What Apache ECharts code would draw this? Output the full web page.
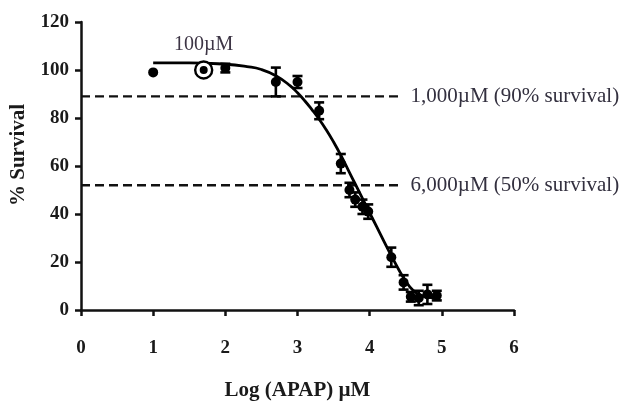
<!DOCTYPE html>
<html>
<head>
<meta charset="utf-8">
<script src="https://cdn.jsdelivr.net/npm/echarts@6/dist/echarts.min.js"></script>
<style>html,body{margin:0;padding:0;background:#fff;}#c{width:621px;height:406px;}</style>
</head>
<body>
<div id="c"></div>
<script>
// Observed points: log concentration, % survival, error (SEM)
const logConc  = [1.0, 2.0, 2.7, 3.0, 3.3, 3.6, 3.72, 3.8, 3.9, 3.98, 4.3, 4.47, 4.57, 4.68, 4.8, 4.93];
const survival = [99, 100.8, 95, 95, 83, 61, 50, 46, 43, 41, 22, 11.5, 5.5, 5, 6.5, 6];
const errors   = [0, 1.8, 6, 2.5, 3.5, 4, 3, 3, 3, 3, 4, 3, 2, 3, 4, 2];

// Highlighted (circled) point
const highlightX = 1.70;
const highlightY = 100;
const highlightLabel = '100\u00B5M';

// Fitted dose-response curve
const fitX = [1.0, 1.5, 2.0, 2.3, 2.5, 2.7, 2.9, 3.0, 3.1, 3.2, 3.3, 3.4, 3.5, 3.6, 3.7, 3.8, 3.9, 4.0, 4.1, 4.2, 4.3, 4.4, 4.5, 4.6, 4.7, 4.8, 4.9];
const fitY = [103, 103, 102.4, 101.4, 100.2, 97.6, 93.4, 90.5, 87.2, 83.5, 79.5, 75, 70, 64.5, 58.5, 52.5, 46.5, 40.5, 34.5, 28.5, 22.6, 17, 12, 8.2, 6.2, 5.4, 5];

// Reference (dashed) lines
const refLevels = [89, 52];
const refLabels = ['1,000\u00B5M (90% survival)', '6,000\u00B5M (50% survival)'];
const refStart = 0;
const refEnd = 4.4;

// Axis ticks
const xMin = 0, xMax = 6, xStep = 1;
const yMin = 0, yMax = 120, yStep = 20;

const serif = '"Liberation Serif", "DejaVu Serif", serif';
const chart = echarts.init(document.getElementById('c'));

const pointData = logConc.map((x, i) => [x, survival[i], errors[i]]);

const refSeries = refLevels.map((lv, i) => ({
  type: 'line',
  data: [[refStart, lv], [refEnd, lv]],
  symbol: 'none',
  silent: true,
  z: 1,
  lineStyle: { color: '#111', width: 2.4, type: [9, 5] },
  endLabel: {
    show: true,
    formatter: refLabels[i],
    distance: 12,
    color: '#33303f',
    fontFamily: serif,
    fontSize: 21
  }
}));

chart.setOption({
  animation: false,
  backgroundColor: '#fff',
  grid: { left: 80, right: 107, top: 22, bottom: 95, containLabel: false },
  xAxis: {
    type: 'value', min: xMin, max: xMax, interval: xStep,
    name: 'Log (APAP) \u00B5M', nameLocation: 'middle', nameGap: 70,
    nameTextStyle: { fontFamily: serif, fontWeight: 'bold', fontSize: 21, color: '#1a1a1a' },
    axisLine: { show: true, lineStyle: { color: '#111', width: 2.5 } },
    axisTick: { show: true, inside: false, length: 6, lineStyle: { color: '#111', width: 2.5 } },
    axisLabel: { margin: 29, fontFamily: serif, fontWeight: 'bold', fontSize: 19, color: '#1a1a1a' },
    splitLine: { show: false }
  },
  yAxis: {
    type: 'value', min: yMin, max: yMax, interval: yStep,
    name: '% Survival', nameLocation: 'middle', nameGap: 52, nameRotate: 90,
    nameTextStyle: { fontFamily: serif, fontWeight: 'bold', fontSize: 21, color: '#1a1a1a', padding: [0, 0, 0, 22] },
    axisLine: { show: true, lineStyle: { color: '#111', width: 2.5 } },
    axisTick: { show: true, inside: false, length: 6, lineStyle: { color: '#111', width: 2.5 } },
    axisLabel: { margin: 12, fontFamily: serif, fontWeight: 'bold', fontSize: 19, color: '#1a1a1a' },
    splitLine: { show: false }
  },
  series: [
    ...refSeries,
    {
      type: 'line',
      data: fitX.map((x, i) => [x, fitY[i]]),
      symbol: 'none',
      smooth: true,
      z: 3,
      lineStyle: { color: '#000', width: 2.8 }
    },
    {
      type: 'custom',
      z: 4,
      data: pointData,
      renderItem: function (params, api) {
        const x = api.value(0), y = api.value(1), e = api.value(2);
        if (!e) return null;
        const top = api.coord([x, y + e]);
        const bot = api.coord([x, y - e]);
        const hw = 5;
        const st = { stroke: '#000', lineWidth: 2.6 };
        return {
          type: 'group',
          children: [
            { type: 'line', shape: { x1: top[0], y1: top[1], x2: bot[0], y2: bot[1] }, style: st },
            { type: 'line', shape: { x1: top[0] - hw, y1: top[1], x2: top[0] + hw, y2: top[1] }, style: st },
            { type: 'line', shape: { x1: bot[0] - hw, y1: bot[1], x2: bot[0] + hw, y2: bot[1] }, style: st }
          ]
        };
      }
    },
    {
      type: 'scatter',
      z: 5,
      data: pointData.map(d => [d[0], d[1]]),
      symbol: 'circle',
      symbolSize: 10,
      itemStyle: { color: '#000', opacity: 1 }
    },
    {
      type: 'scatter',
      z: 5,
      data: [[highlightX, highlightY]],
      symbol: 'circle',
      symbolSize: 17,
      itemStyle: { color: '#fff', borderColor: '#000', borderWidth: 2.4, opacity: 1 },
      label: {
        show: true, position: 'top', distance: 6,
        formatter: highlightLabel,
        color: '#3d3545', fontFamily: serif, fontSize: 20
      }
    },
    {
      type: 'scatter',
      z: 6,
      data: [[highlightX, highlightY]],
      symbol: 'circle',
      symbolSize: 8,
      itemStyle: { color: '#000', opacity: 1 }
    }
  ]
});
</script>
</body>
</html>
